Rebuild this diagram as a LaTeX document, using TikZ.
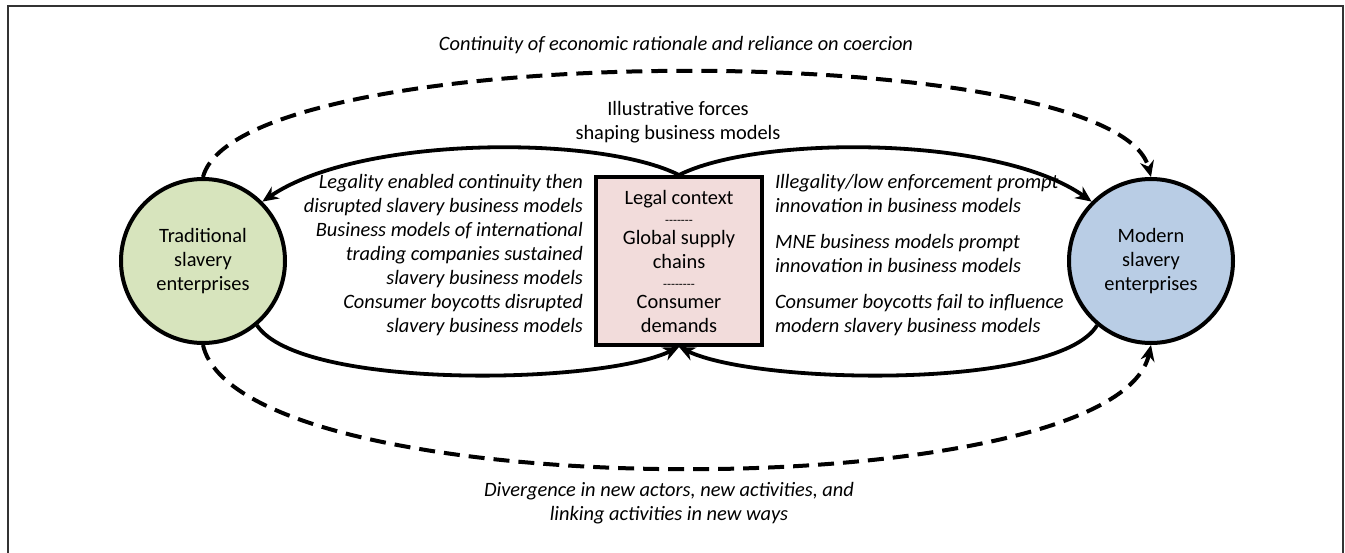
\documentclass[tikz,border=0pt]{standalone}
\usepackage{fontspec}
\setmainfont{Carlito}
\usetikzlibrary{arrows.meta}
\definecolor{tradgreen}{HTML}{D7E4BD}
\definecolor{modblue}{HTML}{B9CDE5}
\definecolor{forcepink}{HTML}{F2DCDB}
\newcommand{\dashsep}[1]{{\fontsize{6.5}{8}\selectfont\foreach\i in {1,...,#1}{-\kern0pt}}}
\begin{document}
\begin{tikzpicture}[x=0.5pt,y=-0.5pt,
  every node/.style={font=\fontsize{10.2}{12}\selectfont},
  note/.style={font=\fontsize{10.2}{12}\selectfont\itshape},
  enterprise/.style={circle, draw, line width=2pt, minimum size=82pt, inner sep=0pt, align=center},
  force/.style={-{Stealth[length=8pt,width=7pt]}, line width=1.9pt},
  link/.style={-{Stealth[length=8pt,width=7pt]}, line width=2pt, dash pattern=on 8pt off 4.5pt}]

\useasboundingbox (0,0) rectangle (1345,552);
\draw [line width=0.8pt, black!80] (8,6) rectangle (1343,600);

\node [enterprise, fill=tradgreen] (trad) at (203,261) {Traditional\\slavery\\enterprises};
\node [enterprise, fill=modblue] (mod) at (1151,261) {Modern\\slavery\\enterprises};
\node [draw, line width=2pt, fill=forcepink, minimum width=83pt, minimum height=84pt, inner sep=0pt, align=center] (forces) at (679,261)
  {Legal context\\[-2pt]\dashsep{7}\\[-2pt]Global supply\\chains\\[-2pt]\dashsep{8}\\[-2pt]Consumer\\demands};

\node [note] (continuity) at (676,45) {Continuity of economic rationale and reliance on coercion};
\node [align=center] (illustrative) at (678,122) {Illustrative forces\\shaping business models};
\node [note, anchor=east, align=right] (pastforces) at (590,255) {Legality enabled continuity then\\disrupted slavery business models\\Business models of international\\trading companies sustained\\slavery business models\\Consumer boycotts disrupted\\slavery business models};
\node [note, anchor=west, align=left] (modforces) at (768,255) {Illegality/low enforcement prompt\\innovation in business models\\[6pt]MNE business models prompt\\innovation in business models\\[6pt]Consumer boycotts fail to influence\\modern slavery business models};
\node [note, align=center] (divergence) at (669,503) {Divergence in new actors, new activities, and\\linking activities in new ways};

\draw [force] (forces.north) .. controls (600,135) and (360,135) .. (trad.45);
\draw [force] (forces.north) .. controls (758,135) and (998,135) .. (mod.135);
\draw [force] (trad.-50) .. controls (300,390) and (600,385) .. (forces.south);
\draw [force] (mod.-130) .. controls (1058,390) and (758,385) .. (forces.south);

\draw [link] (trad.north) .. controls (240,37) and (1115,37) .. (mod.north);
\draw [link] (trad.south) .. controls (240,509) and (1115,509) .. (mod.south);

\end{tikzpicture}
\end{document}
